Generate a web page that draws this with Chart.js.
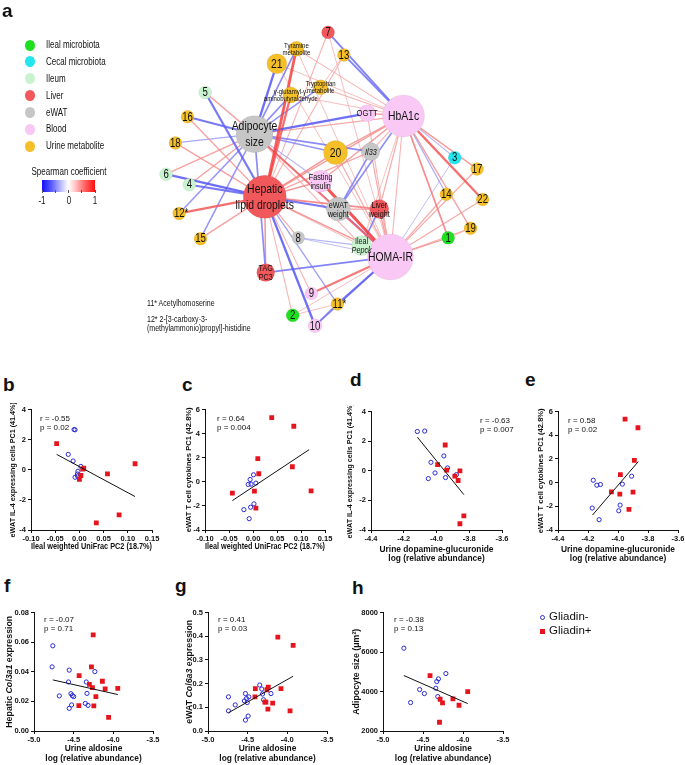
<!DOCTYPE html>
<html>
<head>
<meta charset="utf-8">
<script src="https://cdn.jsdelivr.net/npm/chart.js@4.4.1/dist/chart.umd.min.js"></script>
<style>
  body { margin: 0; background: #fff; width: 685px; height: 765px; position: relative; overflow: hidden; }
  canvas { position: absolute; }
  .t { position: absolute; white-space: nowrap; color: #111; }
  .dot { position: absolute; border-radius: 50%; }
</style>
</head>
<body>
<canvas id="net"></canvas>
<canvas id="pb"></canvas>
<canvas id="pc"></canvas>
<canvas id="pd"></canvas>
<canvas id="pe"></canvas>
<canvas id="pf"></canvas>
<canvas id="pg"></canvas>
<canvas id="ph"></canvas>
<script>
// ---------- panel a: network ----------
const groupNames = ["Ileal microbiota", "Cecal microbiota", "Ileum", "Liver", "eWAT", "Blood", "Urine metabolite"];
const groupColors = ["#1fe01f", "#22e5ee", "#c9f3cf", "#f0585c", "#c6c6c6", "#f9c8f5", "#f5bf2a"];

const nodeKeys = ["ADI", "HLD", "HBA", "HOMA", "OGTT", "FI", "EWW", "LW", "IL33", "PEP", "TAG", "TYR", "TRP", "GGA",
  "n1", "n2", "n3", "n4", "n5", "n6", "n7", "n8", "n9", "n10", "n11", "n12", "n13", "n14", "n15", "n16", "n17", "n18", "n19", "n20", "n21", "n22"];
const nodeText = ["Adipocyte\nsize", "Hepatic\nlipid droplets", "HbA1c", "HOMA-IR", "OGTT", "Fasting\ninsulin", "eWAT\nweight", "Liver\nweight", "_Il33", "Ileal\n_Pepck", "TAG\nPC3",
  "Tyramine\nmetabolite", "Tryptophan\nmetabolite", "γ-glutamyl-γ-\naminobutyraldehyde",
  "1", "2", "3", "4", "5", "6", "7", "8", "9", "10", "11*", "12*", "13", "14", "15", "16", "17", "18", "19", "20", "21", "22"];
const nodeGroup = ["eWAT", "Liver", "Blood", "Blood", "Blood", "Blood", "eWAT", "Liver", "eWAT", "Ileum", "Liver",
  "Urine metabolite", "Urine metabolite", "Urine metabolite",
  "Ileal microbiota", "Ileal microbiota", "Cecal microbiota", "Ileum", "Ileum", "Ileum", "Liver", "eWAT", "Blood", "Blood",
  "Urine metabolite", "Urine metabolite", "Urine metabolite", "Urine metabolite", "Urine metabolite", "Urine metabolite",
  "Urine metabolite", "Urine metabolite", "Urine metabolite", "Urine metabolite", "Urine metabolite", "Urine metabolite"];

// network layout (graph coordinates)
const layoutX = [248, 259, 408, 394, 369, 319, 338, 382, 373, 363, 260, 293, 319, 287,
  456, 289, 463, 178, 195, 153, 327, 295, 309, 313, 337, 167, 344, 454, 190, 176, 487, 163, 480, 335, 272, 493];
const layoutY = [127, 199, 106, 268, 103, 181, 213, 213, 147, 255, 286, 29, 73, 82,
  246, 335, 154, 185, 79, 173, 10, 246, 310, 347, 322, 218, 36, 196, 247, 107, 167, 137, 235, 148, 46, 202];

// edges: spearman coefficients
const edgeFrom = ["n21", "TYR", "GGA", "TRP", "n5", "n16", "n18", "n6", "n4", "n12", "n15", "ADI", "ADI", "ADI", "ADI", "ADI", "ADI", "ADI", "ADI", "ADI",
  "n7", "n13", "TYR", "GGA", "n5", "n16", "n18", "n6", "n4", "n12", "n15", "HLD", "HLD", "HLD", "HLD", "HLD", "HLD", "HLD", "HLD", "HLD", "HLD", "HLD", "HLD", "HLD", "HLD",
  "n7", "n13", "TYR", "TRP", "n21", "GGA", "HBA", "HBA", "HBA", "HBA", "HBA", "HBA", "HBA", "HBA", "HBA", "HBA", "HBA", "HBA", "HBA",
  "n7", "HOMA", "HOMA", "HOMA", "HOMA", "HOMA", "HOMA", "HOMA", "HOMA", "HOMA", "HOMA", "HOMA", "HOMA", "HOMA", "HOMA", "HOMA", "HOMA", "HOMA", "HOMA",
  "PEP", "EWW", "EWW", "n8", "n8", "n11", "n2", "n19", "n13", "n21", "TYR", "n3"];
const edgeTo = ["ADI", "ADI", "ADI", "ADI", "ADI", "ADI", "ADI", "ADI", "ADI", "ADI", "ADI", "OGTT", "IL33", "n20", "HOMA", "FI", "HBA", "TAG", "PEP", "EWW",
  "HLD", "HLD", "HLD", "HLD", "HLD", "HLD", "HLD", "HLD", "HLD", "HLD", "HLD", "n20", "HBA", "FI", "EWW", "LW", "HOMA", "PEP", "n8", "TAG", "n9", "n2", "n10", "n11", "IL33",
  "HBA", "HBA", "HBA", "HBA", "HBA", "HBA", "n14", "n17", "n22", "n19", "n1", "HOMA", "EWW", "LW", "FI", "n20", "OGTT", "IL33", "PEP",
  "HOMA", "n17", "n14", "n22", "n19", "n1", "n9", "n11", "n10", "TAG", "n2", "PEP", "FI", "EWW", "LW", "IL33", "n20", "OGTT", "n3",
  "LW", "IL33", "LW", "PEP", "HOMA", "n10", "n11", "n1", "TRP", "HOMA", "HOMA", "HBA"];
const edgeRho = [-0.75, -0.6, -0.6, -0.55, 0.5, -0.7, -0.45, 0.5, 0.5, -0.55, -0.55, -0.75, -0.6, -0.55, 0.7, -0.4, 0.45, -0.6, 0.4, -0.4,
  0.4, 0.4, 0.85, 0.75, -0.7, 0.5, 0.5, -0.75, -0.7, 0.75, 0.5, 0.55, 0.5, 0.55, -0.7, 0.6, 0.55, 0.4, 0.45, 0.55, 0.4, 0.4, -0.75, -0.5, 0.45,
  -0.65, -0.65, 0.4, 0.4, 0.35, 0.35, -0.45, 0.55, 0.75, 0.5, 0.6, 0.4, -0.6, 0.45, 0.5, 0.5, 0.5, 0.4, 0.35,
  0.35, 0.45, 0.45, 0.45, 0.4, 0.5, 0.7, -0.7, -0.6, -0.65, 0.35, 0.4, 0.9, -0.65, 0.5, 0.45, 0.45, 0.4, -0.35,
  -0.6, -0.6, 0.5, -0.4, -0.35, -0.6, 0.35, 0.4, 0.35, 0.35, 0.35, -0.4];

// ---------- panels b-h: scatter data ----------
const bNegX = [-0.011, -0.009, -0.023, -0.013, 0.003, -0.003, -0.004, -0.009, -0.004];
const bNegY = [2.67, 2.65, 1.02, 0.58, 0.22, -0.10, -0.28, -0.50, -0.42];
const bPosX = [-0.047, 0.007, 0.009, 0.003, 0.000, 0.058, 0.115, 0.082, 0.035];
const bPosY = [1.73, 0.04, 0.10, -0.38, -0.64, -0.27, 0.40, -3.00, -3.53];
const bFitX = [-0.047, 0.115];
const bFitY = [1.02, -1.78];

const cNegX = [-0.006, 0.001, -0.010, -0.004, 0.006, 0.002, -0.005, -0.019, -0.008];
const cNegY = [0.19, 0.58, -0.22, -0.20, -0.11, -1.83, -2.11, -2.31, -3.06];
const cPosX = [0.039, 0.085, 0.010, 0.012, 0.082, 0.121, -0.043, 0.003, 0.006];
const cPosY = [5.33, 4.61, 1.92, 0.67, 1.25, -0.75, -0.94, -0.78, -2.19];
const cFitX = [-0.043, 0.117];
const cFitY = [-1.56, 2.67];

const dNegX = [-4.117, -4.072, -4.034, -3.955, -3.932, -4.009, -4.050, -3.945, -3.878];
const dNegY = [2.65, 2.68, 0.57, 1.00, 0.19, -0.15, -0.53, -0.46, -0.26];
const dPosX = [-3.947, -3.993, -3.938, -3.857, -3.888, -3.868, -3.833, -3.857];
const dPosY = [1.74, 0.41, 0.04, -0.01, -0.36, -0.66, -3.04, -3.58];
const dFitX = [-4.117, -3.833];
const dFitY = [2.27, -1.61];

const eNegX = [-4.165, -4.141, -4.117, -3.971, -3.909, -3.986, -3.995, -4.172, -4.126];
const eNegY = [0.20, -0.22, -0.16, -0.13, 0.54, -1.90, -2.38, -2.15, -3.13];
const ePosX = [-3.953, -3.867, -3.891, -3.984, -3.988, -4.044, -3.900, -3.927];
const ePosY = [5.36, 4.63, 1.88, 0.68, -0.97, -0.78, -0.81, -2.26];
const eFitX = [-4.17, -3.865];
const eFitY = [-2.74, 1.77];

const fNegX = [-4.763, -4.772, -4.556, -4.565, -4.681, -4.534, -4.517, -4.500, -4.526, -4.556, -4.341, -4.233, -4.332, -4.353, -4.319];
const fNegY = [0.0575, 0.0433, 0.0411, 0.0331, 0.0237, 0.0252, 0.0239, 0.0232, 0.0176, 0.0153, 0.0331, 0.0401, 0.0254, 0.0186, 0.0173];
const fPosX = [-4.254, -4.276, -4.431, -4.302, -4.263, -4.138, -4.103, -3.944, -4.220, -4.435, -4.246, -4.060];
const fPosY = [0.0649, 0.0433, 0.0374, 0.0315, 0.0293, 0.0336, 0.0284, 0.0288, 0.0232, 0.0171, 0.0169, 0.0092];
const fFitX = [-4.763, -3.944];
const fFitY = [0.0345, 0.0246];

const gNegX = [-4.742, -4.742, -4.657, -4.528, -4.541, -4.515, -4.485, -4.506, -4.494, -4.528, -4.348, -4.322, -4.313, -4.300, -4.206];
const gNegY = [0.144, 0.085, 0.110, 0.158, 0.127, 0.137, 0.144, 0.120, 0.063, 0.046, 0.194, 0.177, 0.156, 0.132, 0.158];
const gPosX = [-4.120, -3.927, -4.403, -4.240, -4.257, -4.080, -4.408, -4.283, -4.270, -4.185, -4.245, -3.966];
const gPosY = [0.396, 0.361, 0.179, 0.185, 0.174, 0.179, 0.144, 0.122, 0.122, 0.118, 0.092, 0.085];
const gFitX = [-4.742, -3.927];
const gFitY = [0.077, 0.231];

const hNegX = [-4.739, -4.655, -4.542, -4.483, -4.340, -4.328, -4.307, -4.214, -4.315];
const hNegY = [6193, 3439, 4098, 3895, 4166, 4503, 4639, 4909, 3743];
const hPosX = [-4.412, -3.941, -4.126, -4.286, -4.256, -4.050, -4.294];
const hPosY = [4807, 3997, 3625, 3608, 3422, 3304, 2443];
const hFitX = [-4.739, -3.941];
const hFitY = [4807, 3389];

// ---------- styles ----------
const INK = "#111";
const BLUE = "#2a2ad4";
const RED = "#e6141c";
const SANS = '"Liberation Sans", Arial, sans-serif';
const SQ = 0.8; // panel a text is horizontally squeezed in the figure

function putText(txt, x, cy, size, opt) {
  opt = opt || {};
  const d = document.createElement("div");
  d.className = "t";
  d.textContent = txt;
  d.style.left = x + "px";
  d.style.top = (cy - size * 0.6) + "px";
  d.style.fontSize = size + "px";
  d.style.lineHeight = (size * 1.2) + "px";
  d.style.fontFamily = SANS;
  if (opt.bold) d.style.fontWeight = "bold";
  const sq = opt.squeeze ? ` scaleX(${SQ})` : "";
  if (opt.center) {
    d.style.transform = "translateX(-50%)" + sq;
  } else if (sq) {
    d.style.transformOrigin = "left center";
    d.style.transform = sq;
  }
  document.body.appendChild(d);
  return d;
}

// ---------- network chart ----------
function rhoColor(r) {
  const t = Math.min(1, Math.abs(r));
  const v = Math.round(255 * (1 - t) + 30 * t);
  return r > 0 ? `rgba(245,${v},${v},0.85)` : `rgba(${v},${v},245,0.85)`;
}
function rhoWidth(r) {
  return 0.6 + 3 * r * r;
}

const nodeRadius = [18.5, 21.5, 21, 23, 8.5, 11, 12, 9.5, 9, 10, 9, 7.5, 7.5, 8,
  6.5, 6.5, 6.5, 6.5, 6.5, 6.5, 6.5, 6.5, 6.5, 7, 6.5, 6.5, 6.5, 6.5, 6.5, 6.5, 6.5, 6.5, 6.5, 12, 10, 6.5];
const labelSize = [13, 13, 13, 13, 9.5, 9, 9, 9, 9, 9, 9, 7.5, 7.5, 7.5,
  12, 12, 12, 12, 12, 12, 12, 12, 12, 12, 12, 12, 12, 12, 12, 12, 12, 12, 12, 13, 13, 12];

const nodeLabels = {
  id: "nodeLabels",
  afterDatasetsDraw(chart) {
    const ctx = chart.ctx, xs = chart.scales.x, ys = chart.scales.y;
    ctx.save();
    ctx.fillStyle = INK;
    ctx.textAlign = "center";
    ctx.textBaseline = "middle";
    nodeKeys.forEach((k, i) => {
      const lines = nodeText[i].split("\n");
      const size = labelSize[i];
      const gap = size >= 12 ? 1.23 : 1.0;
      const cx = xs.getPixelForValue(layoutX[i]) + (nodeText[i].endsWith("*") ? 2 : 0);
      const cy = ys.getPixelForValue(layoutY[i]);
      lines.forEach((ln, j) => {
        const italic = ln.startsWith("_");
        ctx.save();
        ctx.translate(cx, cy + (j - (lines.length - 1) / 2) * size * gap + 0.5);
        ctx.scale(SQ, 1);
        ctx.font = (italic ? "italic " : "") + size + "px " + SANS;
        ctx.fillText(italic ? ln.slice(1) : ln, 0, 0);
        ctx.restore();
      });
    });
    ctx.restore();
  }
};

const netCanvas = document.getElementById("net");
netCanvas.width = 685;
netCanvas.height = 365;
netCanvas.style.left = "0px";
netCanvas.style.top = "0px";

const nodeIndex = k => nodeKeys.indexOf(k);
const edgeSets = edgeFrom.map((a, i) => {
  const ia = nodeIndex(a), ib = nodeIndex(edgeTo[i]);
  return {
    label: a + "-" + edgeTo[i],
    data: [{ x: layoutX[ia], y: layoutY[ia] }, { x: layoutX[ib], y: layoutY[ib] }],
    showLine: true,
    borderColor: rhoColor(edgeRho[i]),
    borderWidth: rhoWidth(edgeRho[i]),
    pointRadius: 0,
    clip: false,
    order: 2 - Math.abs(edgeRho[i]),
  };
});

new Chart(netCanvas, {
  type: "scatter",
  data: {
    datasets: [{
      label: "nodes",
      data: nodeKeys.map((k, i) => ({ x: layoutX[i], y: layoutY[i] })),
      pointRadius: nodeRadius,
      pointBackgroundColor: nodeGroup.map(g => groupColors[groupNames.indexOf(g)]),
      pointBorderColor: "rgba(0,0,0,0.08)",
      pointBorderWidth: 0.6,
      clip: false,
      order: 0,
    }].concat(edgeSets),
  },
  options: {
    responsive: false,
    animation: false,
    events: [],
    layout: { padding: 0 },
    plugins: { legend: { display: false }, tooltip: { enabled: false } },
    scales: {
      x: { type: "linear", display: false, min: 0, max: 685 },
      y: { type: "linear", display: false, min: 0, max: 365, reverse: true },
    },
  },
  plugins: [nodeLabels],
});

// network legend, colour bar and notes
putText("a", 2, 11, 19, { bold: true });
const legendY = [45, 61.5, 78.5, 95.5, 112.5, 129, 146];
groupNames.forEach((g, i) => {
  const d = document.createElement("div");
  d.className = "dot";
  d.style.left = "25px";
  d.style.top = (legendY[i] - 5.5) + "px";
  d.style.width = "10px";
  d.style.height = "11px";
  d.style.background = groupColors[i];
  document.body.appendChild(d);
  putText(g, 46, legendY[i], 10, { squeeze: true });
});
putText("Spearman coefficient", 69, 172, 10, { center: true, squeeze: true });
const bar = document.createElement("div");
bar.style.cssText = "position:absolute;left:42px;top:180px;width:53px;height:12px;" +
  "background:linear-gradient(90deg,#1010ff 0%,#5c5cff 18%,#c8c8ff 38%,#ffffff 50%,#ffc8c8 62%,#ff5c5c 82%,#ff1010 100%);";
document.body.appendChild(bar);
[42, 55.25, 68.5, 81.75, 95].forEach(x => {
  const tk = document.createElement("div");
  tk.style.cssText = `position:absolute;left:${x - 0.5}px;top:190px;width:1px;height:3px;background:#555;`;
  document.body.appendChild(tk);
});
putText("-1", 42, 201, 10, { center: true, squeeze: true });
putText("0", 68.5, 201, 10, { center: true, squeeze: true });
putText("1", 95, 201, 10, { center: true, squeeze: true });

putText("11* Acetylhomoserine", 147, 303, 8.8, { squeeze: true });
putText("12* 2-[3-carboxy-3-", 147, 319, 8.8, { squeeze: true });
putText("(methylammonio)propyl]-histidine", 147, 328, 8.8, { squeeze: true });

// ---------- scatter panels ----------
const pts = (xs, ys) => xs.map((x, i) => ({ x: x, y: ys[i] }));

const richTitle = {
  id: "richTitle",
  afterDraw(chart, args, opts) {
    if (!opts || !opts.parts) return;
    const ctx = chart.ctx, s = chart.scales.y;
    const size = opts.size;
    const fontOf = it => `${it ? "italic " : ""}bold ${size}px ${SANS}`;
    ctx.save();
    let total = 0;
    opts.parts.forEach(p => { ctx.font = fontOf(p[1]); total += ctx.measureText(p[0]).width; });
    ctx.translate(s.left + size * 0.6, (s.top + s.bottom) / 2);
    ctx.rotate(-Math.PI / 2);
    ctx.fillStyle = INK;
    ctx.textBaseline = "middle";
    ctx.textAlign = "left";
    let x = -total / 2;
    opts.parts.forEach(p => {
      ctx.font = fontOf(p[1]);
      ctx.fillText(p[0], x, 0);
      x += ctx.measureText(p[0]).width;
    });
    ctx.restore();
  }
};

const fmt = d => v => (Math.abs(v) < 1e-9 ? 0 : Number(v)).toFixed(d);

function makePanel(p) {
  const cv = document.getElementById(p.id);
  const [L, T, R, B] = p.area;
  cv.width = p.yW + (R - L) + 14;
  cv.height = 6 + (B - T) + p.xH;
  cv.style.left = (L - p.yW) + "px";
  cv.style.top = (T - 6) + "px";
  const tickFont = { family: SANS, size: 7.5, weight: "bold" };
  const titleFont = { family: SANS, size: 8.4, weight: "bold", lineHeight: p.titleLH };
  const yTitleFont = { family: SANS, size: p.ySize, weight: "bold", lineHeight: 1.2 };
  const grid = { drawOnChartArea: false, drawTicks: true, tickLength: 3, color: INK, lineWidth: 1 };
  const border = { display: true, color: INK, width: 1 };
  new Chart(cv, {
    type: "scatter",
    data: {
      datasets: [
        { label: "Gliadin-", data: pts(p.neg[0], p.neg[1]), pointStyle: "circle", pointRadius: 2.1, borderWidth: 1,
          borderColor: BLUE, backgroundColor: "rgba(255,255,255,0)", order: 2 },
        { label: "Gliadin+", data: pts(p.pos[0], p.pos[1]), pointStyle: "rect", pointRadius: 3.4, borderWidth: 0,
          borderColor: RED, backgroundColor: RED, order: 1 },
        { label: "fit", data: pts(p.fit[0], p.fit[1]), showLine: true, borderColor: INK, borderWidth: 1,
          pointRadius: 0, order: 0 },
      ],
    },
    options: {
      responsive: false,
      animation: false,
      events: [],
      layout: { padding: { left: 0, top: 6, right: 14, bottom: 0 } },
      plugins: {
        legend: { display: false },
        tooltip: { enabled: false },
        richTitle: p.yRich ? { parts: p.yRich, size: p.ySize } : {},
      },
      scales: {
        x: {
          type: "linear", min: p.x[0], max: p.x[1], grid: grid, border: border,
          afterFit: s => { s.height = p.xH; },
          ticks: { stepSize: p.x[2], font: tickFont, color: INK, padding: 1, maxRotation: 0, autoSkip: false, callback: fmt(p.x[3]) },
          title: { display: true, text: p.xTitle, font: titleFont, color: INK, padding: 0 },
        },
        y: {
          type: "linear", min: p.y[0], max: p.y[1], grid: grid, border: border,
          afterFit: s => { s.width = p.yW; },
          ticks: { stepSize: p.y[2], font: tickFont, color: INK, padding: 2, autoSkip: false, callback: fmt(p.y[3]) },
          title: { display: !p.yRich, text: p.yTitle, font: yTitleFont, color: INK, padding: 0 },
        },
      },
    },
    plugins: [richTitle],
  });
}

const titleUF = "Ileal weighted UniFrac PC2 (18.7%)";
const titleDG = ["Urine dopamine-glucuronide", "log (relative abundance)"];
const titleAL = ["Urine aldosine", "log (relative abundance)"];
const titleIL4 = "eWAT IL-4 expressing cells PC1 (41.4%)";
const titleTC = "eWAT T cell cytokines PC1 (42.8%)";

makePanel({ id: "pb", neg: [bNegX, bNegY], pos: [bPosX, bPosY], fit: [bFitX, bFitY], area: [31, 409, 152, 530], yW: 22, xH: 22, titleLH: 1.2,
  x: [-0.10, 0.15, 0.05, 2], y: [-4, 4, 2, 0], xTitle: titleUF, yTitle: titleIL4, ySize: 7.2 });
makePanel({ id: "pc", neg: [cNegX, cNegY], pos: [cPosX, cPosY], fit: [cFitX, cFitY], area: [205, 409, 325, 530], yW: 21, xH: 22, titleLH: 1.2,
  x: [-0.10, 0.15, 0.05, 2], y: [-4, 6, 2, 0], xTitle: titleUF, yTitle: titleTC, ySize: 7.6 });
makePanel({ id: "pd", neg: [dNegX, dNegY], pos: [dPosX, dPosY], fit: [dFitX, dFitY], area: [371, 411, 502, 530], yW: 25, xH: 33, titleLH: 1.09,
  x: [-4.4, -3.6, 0.2, 1], y: [-4, 4, 2, 0], xTitle: titleDG, yTitle: titleIL4, ySize: 7.2 });
makePanel({ id: "pe", neg: [eNegX, eNegY], pos: [ePosX, ePosY], fit: [eFitX, eFitY], area: [558, 411, 678, 530], yW: 22, xH: 33, titleLH: 1.09,
  x: [-4.4, -3.6, 0.2, 1], y: [-4, 6, 2, 0], xTitle: titleDG, yTitle: titleTC, ySize: 7.6 });
makePanel({ id: "pf", neg: [fNegX, fNegY], pos: [fPosX, fPosY], fit: [fFitX, fFitY], area: [34, 612, 153, 731], yW: 30, xH: 33, titleLH: 1.2,
  x: [-5.0, -3.5, 0.5, 1], y: [0, 0.08, 0.02, 2], xTitle: titleAL, ySize: 8.8,
  yRich: [["Hepatic ", false], ["Col3a1", true], [" expression", false]] });
makePanel({ id: "pg", neg: [gNegX, gNegY], pos: [gPosX, gPosY], fit: [gFitX, gFitY], area: [208, 612, 327, 731], yW: 24, xH: 33, titleLH: 1.2,
  x: [-5.0, -3.5, 0.5, 1], y: [0, 0.5, 0.1, 1], xTitle: titleAL, ySize: 8.8,
  yRich: [["eWAT ", false], ["Col6a3", true], [" expression", false]] });
makePanel({ id: "ph", neg: [hNegX, hNegY], pos: [hPosX, hPosY], fit: [hFitX, hFitY], area: [383, 612, 503, 731], yW: 32, xH: 33, titleLH: 1.2,
  x: [-5.0, -3.5, 0.5, 1], y: [2000, 8000, 2000, 0], xTitle: titleAL, yTitle: "Adipocyte size (μm²)", ySize: 8.8 });

// panel letters and statistics
putText("b", 3, 385, 19, { bold: true });
putText("c", 182, 385, 19, { bold: true });
putText("d", 350, 380, 19, { bold: true });
putText("e", 525, 380, 19, { bold: true });
putText("f", 4, 586, 19, { bold: true });
putText("g", 175, 586, 19, { bold: true });
putText("h", 352, 588, 19, { bold: true });

putText("r = -0.55", 40, 419, 8);
putText("p = 0.02", 40, 428, 8);
putText("r = 0.64", 217, 419, 8);
putText("p = 0.004", 217, 428, 8);
putText("r = -0.63", 480, 421, 8);
putText("p = 0.007", 480, 429.5, 8);
putText("r = 0.58", 568, 421, 8);
putText("p = 0.02", 568, 429.5, 8);
putText("r = -0.07", 44, 620, 8);
putText("p = 0.71", 44, 629, 8);
putText("r = 0.41", 218, 620, 8);
putText("p = 0.03", 218, 629, 8);
putText("r = -0.38", 394, 620, 8);
putText("p = 0.13", 394, 629, 8);

// group legend
const lc = document.createElement("div");
lc.style.cssText = `position:absolute;left:539.5px;top:614.5px;width:3px;height:3px;border:1px solid ${BLUE};border-radius:50%;`;
document.body.appendChild(lc);
const ls = document.createElement("div");
ls.style.cssText = `position:absolute;left:539.5px;top:628.5px;width:5px;height:5px;background:${RED};`;
document.body.appendChild(ls);
putText("Gliadin-", 549, 617, 11.5);
putText("Gliadin+", 549, 631, 11.5);
</script>
</body>
</html>
